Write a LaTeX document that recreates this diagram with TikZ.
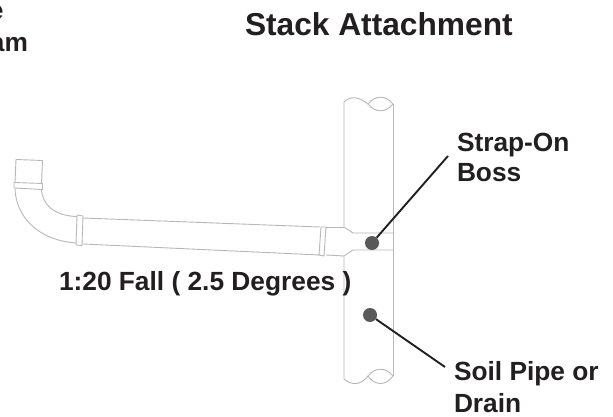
\documentclass[tikz,border=0pt]{standalone}
\usepackage{fontspec}
\setmainfont{Liberation Sans}
\definecolor{pipeline}{gray}{0.72}
\definecolor{inkt}{HTML}{231F20}
\definecolor{dotc}{HTML}{58595B}
\tikzset{
  pipe/.style={draw=pipeline,line width=0.9pt,line join=round},
  label/.style={inner sep=0pt,outer sep=0pt,anchor=base west,text=inkt,font=\fontsize{26.3}{30}\selectfont\bfseries},
  heading/.style={inner sep=0pt,outer sep=0pt,anchor=base west,text=inkt,font=\fontsize{31.7}{36}\selectfont\bfseries},
  dot/.style={circle,fill=dotc,minimum size=14pt,inner sep=0pt},
  leader/.style={draw=inkt,line width=1.9pt}
}
\begin{document}
\begin{tikzpicture}[x=1pt,y=-1pt]
\useasboundingbox (0,0) rectangle (613,417);
\fill[white] (0,0) rectangle (613,417);
% stack
\draw[pipe] (344,102) -- (344,227) -- (353,233) -- (393,233);
\draw[pipe] (393,104) -- (393,376);
\draw[pipe] (344,379) -- (344,256) -- (353,250) -- (393,250);
\draw[pipe] (344,102) .. controls (350,96) and (358,96) .. (368,104);
\draw[pipe] (368,104) .. controls (375,95) and (386,95) .. (393,104);
\draw[pipe] (368,104) .. controls (375,113) and (386,113) .. (393,104);
\draw[pipe] (344,379) .. controls (352,386) and (361,385) .. (368,376);
\draw[pipe] (368,376) .. controls (375,367) and (386,367) .. (393,376);
\draw[pipe] (368,376) .. controls (375,386) and (386,386) .. (393,376);
% branch pipe
\draw[pipe] (83,218) -- (320,227);
\draw[pipe] (326,227) -- (344,227);
\draw[pipe] (83,244) -- (320,255);
\draw[pipe] (326,255) -- (344,256);
\draw[pipe] (321,227) -- (326,227) -- (324,256) -- (319,255) -- cycle;
\draw[pipe] (77,215) -- (83,216) -- (82,245.5) -- (76,245) -- cycle;
% elbow
\draw[pipe] (15,189) .. controls (16,215) and (36,240) .. (76,243);
\draw[pipe] (41.5,189) .. controls (42,205) and (55,216) .. (77,216.5);
\draw[pipe] (14,182.5) -- (42.5,183.5) -- (42.5,189.5) -- (14,188) -- cycle;
\draw[pipe] (15,182.5) -- (16,159.5) -- (42.5,160.5) -- (41.5,183.5);
% bosses and leaders
\node[dot] (boss) at (372,243) {};
\node[dot] (soil) at (370,315) {};
\coordinate (bossend) at (448,156);
\coordinate (soilend) at (445,367);
\draw[leader] (boss) -- (bossend);
\draw[leader] (soil) -- (soilend);
% text
\node[heading] (title) at (245,36) {Stack Attachment};
\node[label] (t1) at (457,151) {Strap-On};
\node[label] (t2) at (457,181) {Boss};
\node[label] (t3) at (454,380) {Soil Pipe or};
\node[label] (t4) at (454,412) {Drain};
\node[label] (t5) at (59,290) {1:20 Fall ( 2.5 Degrees )};
\node[label,anchor=base east] (t6) at (3.5,20) {e};
\node[label,anchor=base east] (t7) at (28,52) {am};
\end{tikzpicture}
\end{document}
